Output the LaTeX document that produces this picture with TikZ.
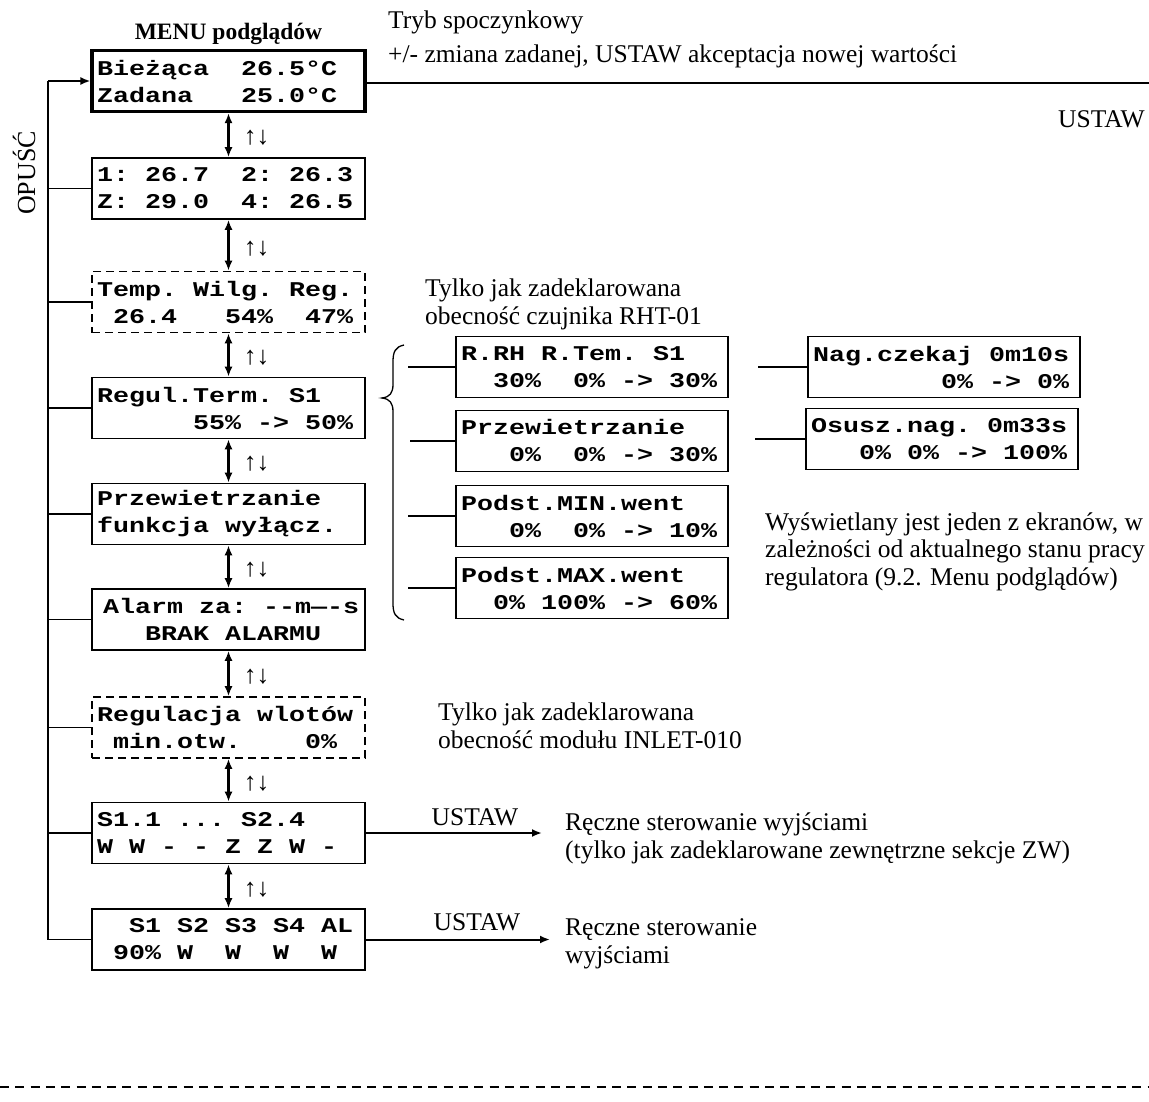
\documentclass[tikz,border=0pt]{standalone}
\usepackage{fontspec}
\setmainfont{Liberation Serif}
\newfontfamily\lcd{Liberation Mono}[FakeStretch=1.27]
\usetikzlibrary{arrows.meta}
\newcommand{\lcdfont}{\lcd\bfseries\fontsize{21}{27}\selectfont\def~{\leavevmode\hphantom{0}}}
\newcommand{\annfont}{\fontsize{25.5}{27.5}\selectfont}
\begin{document}
\begin{tikzpicture}[x=1pt,y=-1pt,
  lcdbox/.style={draw, line width=1.6pt, minimum height=61pt, inner xsep=5pt, inner ysep=0pt,
     align=left, text width=263pt, font=\lcdfont, anchor=center},
  sidebox/.style={lcdbox, text width=262pt},
  dashbox/.style={lcdbox, dash pattern=on 8pt off 5pt},
  conn/.style={line width=1.6pt},
  updown/.style={line width=2.2pt, {Latex[length=10pt,width=8pt]}-{Latex[length=10pt,width=8pt]}},
  toarrow/.style={line width=2pt, -{Latex[length=10pt,width=8pt]}},
  ann/.style={font=\annfont, anchor=base west, inner sep=0pt, align=left},
  arrtxt/.style={font=\fontsize{25.5}{27}\selectfont, inner sep=0pt}
]
\useasboundingbox (0,0) rectangle (1149,1102);

% main column
\node[lcdbox, line width=3.2pt] (b1) at (228.5,81) {Bieżąca~~26.5°C\\Zadana~~~25.0°C};
\node[lcdbox] (b2) at (228.5,188.5) {1:~26.7~~2:~26.3\\Z:~29.0~~4:~26.5};
\node[dashbox] (b3) at (228.5,302) {Temp.~Wilg.~Reg.\\~26.4~~~54\%~~47\%};
\node[lcdbox] (b4) at (228.5,408) {Regul.Term.~S1\\~~~~~~55\%~->~50\%};
\node[lcdbox] (b5) at (228.5,514) {Przewietrzanie\\funkcja~wyłącz.};
\node[lcdbox] (b6) at (228.5,619.5) {\kern6pt Alarm~za:~-\kern0pt-m—-s\\~~~BRAK~ALARMU};
\node[dashbox] (b7) at (228.5,727.5) {Regulacja~wlotów\\~min.otw.~~~~0\%};
\node[lcdbox] (b8) at (228.5,833) {S1.1~...~S2.4\\W~W~-~-~Z~Z~W~-};
\node[lcdbox] (b9) at (228.5,939.5) {~~S1~S2~S3~S4~AL\\~90\%~W~~W~~W~~W};

\node[font=\bfseries\fontsize{23.5}{25}\selectfont, anchor=base] (menu) at (228.5,40) {MENU podglądów};

% up/down arrows
\foreach \a/\b in {b1/b2,b2/b3,b3/b4,b4/b5,b5/b6,b6/b7,b7/b8,b8/b9}{
  \draw[updown] (\a.south) -- (\b.north);
  \path (\a.south) -- (\b.north) node[midway, arrtxt, xshift=28pt, yshift=-3pt] {↑↓};
}

% left OPUŚĆ line
\coordinate (ltop) at (48,81);
\coordinate (lbot) at (48,939.5);
\draw[conn] (lbot) -- (ltop);
\draw[toarrow, line width=1.8pt] (ltop) -- (b1.west);
\foreach \b in {b2,b3,b4,b5,b6,b7,b8,b9}{
  \draw[conn] (ltop |- \b.west) -- (\b.west);
}
\node[font=\fontsize{26}{26}\selectfont, rotate=90] (opusc) at (24,173) {OPUŚĆ};

% top right
\coordinate (tr) at (1149,83);
\draw[line width=2.4pt] (b1.east |- tr) -- (tr);
\node[ann] (tryb) at (388,29) {Tryb spoczynkowy};
\node[ann] (zm) at (388,63) {+/- zmiana zadanej, USTAW akceptacja nowej wartości};
\node[font=\annfont, anchor=base east, inner sep=0pt] (ustaw0) at (1145,128) {USTAW};

% RHT note
\node[ann] (rht) at (425,324) {Tylko jak zadeklarowana\\obecność czujnika RHT-01};

% brace
\draw[line width=1.3pt] (404,345) .. controls (395,347) and (393,352) .. (393,362) -- (393,384)
   .. controls (393,393) and (390,397) .. (382,398) .. controls (390,399) and (393,403) .. (393,412)
   -- (393,603) .. controls (393,613) and (395,618) .. (404,620);

% side boxes
\node[sidebox] (r1) at (592,367) {R.RH~R.Tem.~S1\\~~30\%~~0\%~->~30\%};
\node[sidebox] (r2) at (592,441) {Przewietrzanie\\~~~0\%~~0\%~->~30\%};
\node[sidebox] (r3) at (592,516) {Podst.MIN.went\\~~~0\%~~0\%~->~10\%};
\node[sidebox] (r4) at (592,588) {Podst.MAX.went\\~~0\%~100\%~->~60\%};
\foreach \r/\x in {r1/408,r2/410,r3/408,r4/408}{
  \coordinate (c\r) at (\x,0);
  \draw[conn] (c\r |- \r.west) -- (\r.west);
}

\node[sidebox] (n1) at (944,367) {Nag.czekaj~0m10s\\~~~~~~~~0\%~->~0\%};
\node[sidebox] (n2) at (942,439) {Osusz.nag.~0m33s\\~~~0\%~0\%~->~100\%};
\coordinate (cn1) at (758,0);
\coordinate (cn2) at (755,0);
\draw[conn] (cn1 |- n1.west) -- (n1.west);
\draw[conn] (cn2 |- n2.west) -- (n2.west);

\node[ann] (wys) at (765,585) {Wyświetlany jest jeden z ekranów, w\\zależności od aktualnego stanu pracy\\regulatora (9.2. Menu podglądów)};

% INLET note
\node[ann] (inlet) at (438,748) {Tylko jak zadeklarowana\\obecność modułu INLET-010};

% outputs
\coordinate (e8) at (542,833);
\coordinate (e9) at (550,939.5);
\draw[toarrow] (b8.east) -- (e8);
\draw[toarrow] (b9.east) -- (e9);
\node[font=\annfont, anchor=base, inner sep=0pt] (u8) at (475,825) {USTAW};
\node[font=\annfont, anchor=base, inner sep=0pt] (u9) at (477,930) {USTAW};
\node[ann] (m8) at (565,858) {Ręczne sterowanie wyjściami\\(tylko jak zadeklarowane zewnętrzne sekcje ZW)};
\node[ann] (m9) at (565,963) {Ręczne sterowanie\\wyjściami};

% bottom dashed line
\coordinate (dl) at (0,1087);
\coordinate (dr) at (1149,1087);
\draw[line width=2.6pt, dash pattern=on 9pt off 6.3pt] (dl) -- (dr);
\end{tikzpicture}
\end{document}
